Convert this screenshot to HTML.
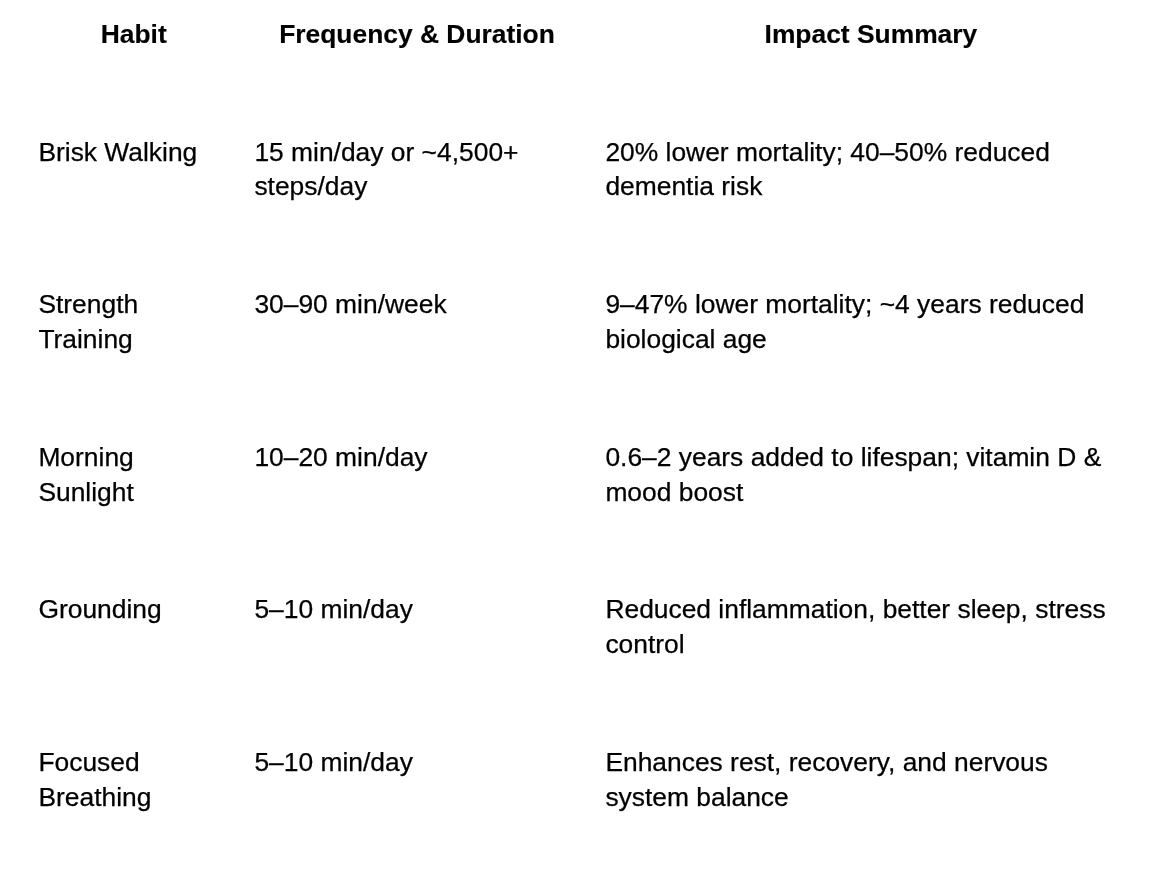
<!DOCTYPE html>
<html lang="en"><head><meta charset="utf-8"><title>Habit table</title>
<style>
html,body{margin:0;padding:0;background:#fff;}
body{width:1150px;height:870px;position:relative;overflow:hidden;font-family:"Liberation Sans",Arial,Helvetica,sans-serif;font-size:26.4px;line-height:34.3px;color:#000;}
.t{position:absolute;white-space:nowrap;margin:0;-webkit-text-stroke:0.25px #000;}
.h{font-weight:bold;text-align:center;-webkit-text-stroke:0.15px #000;}
</style></head><body>
<div class="t h" style="left:39.7px;width:188px;top:17.2px">Habit</div>
<div class="t h" style="left:255px;width:324px;top:17.2px">Frequency &amp; Duration</div>
<div class="t h" style="left:606.9px;width:528px;top:17.2px">Impact Summary</div>
<div class="t" style="left:38.4px;top:135px">Brisk Walking</div>
<div class="t" style="left:254.4px;top:135px">15 min/day or ~4,500+</div>
<div class="t" style="left:254.4px;top:169.3px">steps/day</div>
<div class="t" style="left:605.4px;top:135px">20% lower mortality; 40–50% reduced</div>
<div class="t" style="left:605.4px;top:169.3px">dementia risk</div>
<div class="t" style="left:38.4px;top:287px">Strength</div>
<div class="t" style="left:38.4px;top:322.3px">Training</div>
<div class="t" style="left:254.4px;top:287px">30–90 min/week</div>
<div class="t" style="left:605.4px;top:287px">9–47% lower mortality; ~4 years reduced</div>
<div class="t" style="left:605.4px;top:322.3px">biological age</div>
<div class="t" style="left:38.4px;top:440px">Morning</div>
<div class="t" style="left:38.4px;top:475.3px">Sunlight</div>
<div class="t" style="left:254.4px;top:440px">10–20 min/day</div>
<div class="t" style="left:605.4px;top:440px">0.6–2 years added to lifespan; vitamin D &amp;</div>
<div class="t" style="left:605.4px;top:475.3px">mood boost</div>
<div class="t" style="left:38.4px;top:592px">Grounding</div>
<div class="t" style="left:254.4px;top:592px">5–10 min/day</div>
<div class="t" style="left:605.4px;top:592px">Reduced inflammation, better sleep, stress</div>
<div class="t" style="left:605.4px;top:627.3px">control</div>
<div class="t" style="left:38.4px;top:744.6px">Focused</div>
<div class="t" style="left:38.4px;top:780.3px">Breathing</div>
<div class="t" style="left:254.4px;top:744.6px">5–10 min/day</div>
<div class="t" style="left:605.4px;top:744.6px">Enhances rest, recovery, and nervous</div>
<div class="t" style="left:605.4px;top:780.3px">system balance</div>
</body></html>
